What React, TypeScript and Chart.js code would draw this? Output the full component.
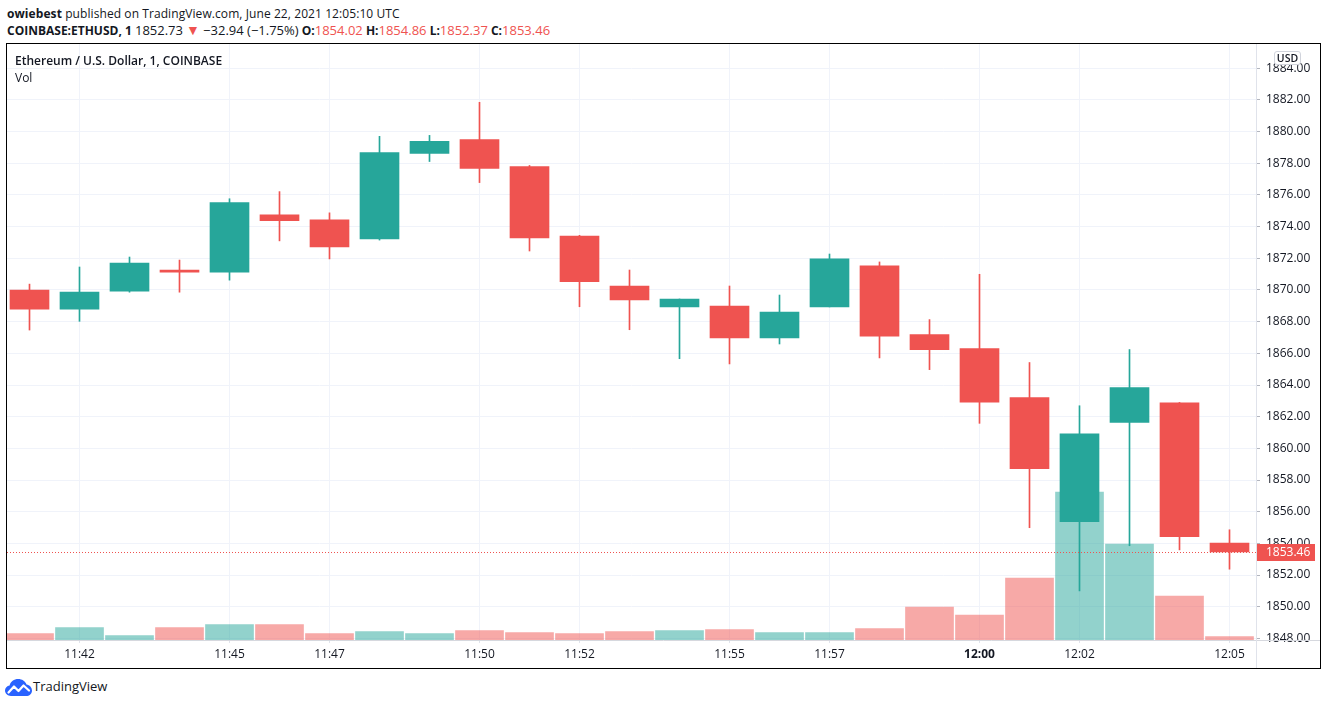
import React, { useEffect, useRef } from 'react';
import { Chart, registerables } from 'chart.js';

Chart.register(...registerables);

// ---- data ----
const times = [
  '11:41', '11:42', '11:43', '11:44', '11:45', '11:46', '11:47', '11:48', '11:49', '11:50',
  '11:51', '11:52', '11:53', '11:54', '11:55', '11:56', '11:57', '11:58', '11:59', '12:00',
  '12:01', '12:02', '12:03', '12:04', '12:05',
];
const opens = [
  1869.99, 1868.78, 1869.93, 1871.26, 1871.13, 1874.75, 1874.43, 1873.22, 1878.62, 1879.50,
  1877.79, 1873.41, 1870.25, 1868.93, 1868.99, 1866.97, 1868.93, 1871.52, 1867.18, 1866.30,
  1863.20, 1855.37, 1861.64, 1862.88, 1854.02,
];
const highs = [
  1870.37, 1871.45, 1872.08, 1871.89, 1875.76, 1876.21, 1874.87, 1879.70, 1879.76, 1881.85,
  1877.86, 1873.45, 1871.26, 1869.43, 1870.25, 1869.68, 1872.27, 1871.77, 1868.13, 1870.99,
  1865.42, 1862.69, 1866.24, 1862.90, 1854.86,
];
const lows = [
  1867.47, 1868.02, 1869.86, 1869.86, 1870.62, 1873.10, 1871.96, 1873.15, 1878.11, 1876.78,
  1872.46, 1868.94, 1867.49, 1865.66, 1865.33, 1866.59, 1868.93, 1865.71, 1864.97, 1861.58,
  1854.99, 1851.00, 1853.85, 1853.59, 1852.37,
];
const closes = [
  1868.78, 1869.86, 1871.70, 1871.13, 1875.51, 1874.37, 1872.72, 1878.68, 1879.38, 1877.67,
  1873.29, 1870.53, 1869.37, 1869.43, 1866.97, 1868.61, 1871.96, 1867.09, 1866.23, 1862.91,
  1858.72, 1860.92, 1863.83, 1854.42, 1853.46,
];
const volumes = [
  63, 123, 43, 123, 153, 153, 63, 83, 63, 93,
  73, 63, 83, 93, 103, 73, 73, 113, 330, 250,
  620, 1480, 960, 440, 33,
];
const timeTickLabels = ['11:42', '11:45', '11:47', '11:50', '11:52', '11:55', '11:57', '12:00', '12:02', '12:05'];
const priceTickLabels = [
  1848, 1850, 1852, 1854, 1856, 1858, 1860, 1862, 1864, 1866,
  1868, 1870, 1872, 1874, 1876, 1878, 1880, 1882, 1884,
];
const lastPrice = 1853.46;

const UP = '#26a69a';
const DOWN = '#ef5350';
const UP_VOL = 'rgba(38,166,154,0.5)';
const DOWN_VOL = 'rgba(239,83,80,0.5)';
const FONT = '"Open Sans", sans-serif';
const TEXT = '#131722';

export default function App() {
  const canvasRef = useRef<HTMLCanvasElement | null>(null);

  useEffect(() => {
    const canvas = canvasRef.current;
    if (!canvas) return;
    const isUp = (i: number) => closes[i] >= opens[i];

    const overlay = {
      id: 'tvOverlay',
      afterDatasetsDraw(chart: any) {
        const { ctx, chartArea } = chart;
        const y = Math.round(chart.scales.y.getPixelForValue(lastPrice)) + 0.5;
        ctx.save();
        ctx.strokeStyle = DOWN;
        ctx.lineWidth = 1;
        ctx.setLineDash([1, 2]);
        ctx.beginPath();
        ctx.moveTo(chartArea.left, y);
        ctx.lineTo(chartArea.right, y);
        ctx.stroke();
        ctx.restore();
      },
      afterDraw(chart: any) {
        const { ctx, chartArea, width, height } = chart;
        ctx.save();
        ctx.strokeStyle = '#d6d8de';
        ctx.lineWidth = 1;
        ctx.beginPath();
        ctx.moveTo(0, chartArea.bottom + 0.5);
        ctx.lineTo(width, chartArea.bottom + 0.5);
        ctx.stroke();
        ctx.strokeStyle = '#e0e3eb';
        ctx.beginPath();
        ctx.moveTo(chartArea.right + 0.5, 0);
        ctx.lineTo(chartArea.right + 0.5, height);
        ctx.stroke();
        // last price label
        const y = Math.round(chart.scales.y.getPixelForValue(lastPrice));
        ctx.fillStyle = DOWN;
        ctx.fillRect(chartArea.right + 1, y - 8, 58, 17);
        ctx.fillStyle = '#ffffff';
        ctx.font = `12px ${FONT}`;
        ctx.textAlign = 'left';
        ctx.textBaseline = 'middle';
        ctx.fillText(lastPrice.toFixed(2), chartArea.right + 10, y + 0.5);
        ctx.restore();
      },
    };

    const chart = new Chart(canvas, {
      type: 'bar',
      data: {
        datasets: [
          {
            label: 'body',
            data: times.map((_, i) => ({ x: i, y: [opens[i], closes[i]] })) as any,
            backgroundColor: times.map((_, i) => (isUp(i) ? UP : DOWN)),
            barThickness: 39,
            grouped: false,
            borderWidth: 0,
            order: 1,
            yAxisID: 'y',
          } as any,
          {
            label: 'wick',
            data: times.map((_, i) => ({ x: i, y: [lows[i], highs[i]] })) as any,
            backgroundColor: times.map((_, i) => (isUp(i) ? UP : DOWN)),
            barThickness: 1,
            grouped: false,
            borderWidth: 0,
            order: 2,
            yAxisID: 'y',
          } as any,
          {
            label: 'Vol',
            data: times.map((_, i) => ({ x: i, y: volumes[i] })) as any,
            backgroundColor: times.map((_, i) => (isUp(i) ? UP_VOL : DOWN_VOL)),
            barThickness: 48,
            grouped: false,
            borderWidth: 0,
            order: 3,
            yAxisID: 'vol',
          } as any,
        ],
      },
      options: {
        animation: false,
        responsive: false,
        devicePixelRatio: 1,
        layout: { padding: 0 },
        plugins: { legend: { display: false }, tooltip: { enabled: false } },
        scales: {
          x: {
            type: 'linear',
            position: 'bottom',
            offset: false,
            min: -0.45,
            max: 24.53,
            bounds: 'data',
            grid: { offset: false, color: '#f0f3fa', tickColor: '#e0e3eb', tickLength: 3, drawTicks: true },
            border: { display: false },
            ticks: {
              autoSkip: false,
              maxRotation: 0,
              padding: 4,
              color: TEXT,
              font: (c: any) => ({
                family: FONT,
                size: 12,
                weight: c.tick && times[c.tick.value] === '12:00' ? 'bold' : 'normal',
              }),
              callback: (v: any) => times[v] ?? '',
            },
            afterBuildTicks: (scale: any) => {
              scale.ticks = timeTickLabels.map((t) => ({ value: times.indexOf(t) }));
            },
            afterFit: (scale: any) => {
              scale.height = 28;
              scale.paddingLeft = 0;
              scale.paddingRight = 0;
            },
          } as any,
          y: {
            type: 'linear',
            position: 'right',
            min: 1847.9,
            max: 1885.53,
            bounds: 'data',
            grid: { color: '#f0f3fa', tickColor: '#b2b5be', tickLength: 4, drawTicks: true },
            border: { display: false },
            ticks: {
              padding: 6,
              color: TEXT,
              font: { family: FONT, size: 12 },
              callback: (v: any) => Number(v).toFixed(2),
            },
            afterBuildTicks: (scale: any) => {
              scale.ticks = priceTickLabels.map((v) => ({ value: v }));
            },
            afterFit: (scale: any) => {
              scale.width = 64;
              scale.paddingTop = 0;
              scale.paddingBottom = 0;
            },
          } as any,
          vol: {
            type: 'linear',
            display: false,
            min: 0,
            max: 5960,
          } as any,
        },
      } as any,
      plugins: [overlay],
    });
    return () => chart.destroy();
  }, []);

  const red = { color: DOWN };
  const num = { fontSize: 13 };
  return (
    <div
      style={{
        position: 'absolute',
        left: 0,
        top: 0,
        width: 1327,
        height: 705,
        background: '#fff',
        fontFamily: FONT,
        color: TEXT,
        overflow: 'hidden',
      }}
    >
      <div style={{ position: 'absolute', left: 7, top: 5, fontSize: 12, lineHeight: '18px', whiteSpace: 'nowrap', letterSpacing: 0.08 }}>
        <b>owiebest</b> published on TradingView.com, June 22, 2021 12:05:10 UTC
      </div>
      <div style={{ position: 'absolute', left: 7, top: 21, fontSize: 12, lineHeight: '18px', whiteSpace: 'nowrap' }}>
        <b>COINBASE:ETHUSD, 1</b> <span style={num}>1852.73</span>{' '}
        <span style={{ ...red, fontSize: 14 }}>▼</span> <span style={num}>−32.94 (−1.75%)</span> <b>O:</b>
        <span style={{ ...red, ...num }}>1854.02</span> <b>H:</b>
        <span style={{ ...red, ...num }}>1854.86</span> <b>L:</b>
        <span style={{ ...red, ...num }}>1852.37</span> <b>C:</b>
        <span style={{ ...red, ...num }}>1853.46</span>
      </div>
      <div
        style={{
          position: 'absolute',
          left: 6,
          top: 43,
          width: 1315,
          height: 626,
          border: '1px solid #000',
          boxSizing: 'border-box',
        }}
      />
      <canvas
        ref={canvasRef}
        width={1313}
        height={624}
        style={{ position: 'absolute', left: 7, top: 44, width: 1313, height: 624 }}
      />
      <div style={{ position: 'absolute', left: 15, top: 52, fontSize: 12, lineHeight: '18px', fontWeight: 600, whiteSpace: 'nowrap' }}>
        Ethereum / U.S. Dollar, 1, COINBASE
      </div>
      <div style={{ position: 'absolute', left: 15, top: 69, fontSize: 12, lineHeight: '18px', whiteSpace: 'nowrap' }}>
        Vol
      </div>
      <div
        style={{
          position: 'absolute',
          left: 1274,
          top: 51,
          width: 27,
          height: 14,
          border: '1px solid #d1d4dc',
          borderRadius: 3,
          background: '#fff',
          boxSizing: 'border-box',
          fontSize: 10.5,
          lineHeight: '12px',
          textAlign: 'center',
          fontWeight: 600,
        }}
      >
        USD
      </div>
      <svg width="27" height="17" viewBox="0 0 27 17" style={{ position: 'absolute', left: 5, top: 679 }}>
        <path
          d="M6 17 C2.6 17 0 14.6 0 11.6 C0 8.9 2 6.7 4.6 6.4 C5.5 2.7 9 0 13.2 0 C17 0 20.2 2.2 21.5 5.4 C24.6 5.8 27 8.4 27 11.4 C27 14.5 24.4 17 21.2 17 Z"
          fill="#2962ff"
        />
        <polyline
          points="3.5,13.5 9,7.5 13.5,12 18.5,6.5 24,11.5"
          fill="none"
          stroke="#fff"
          strokeWidth="2.2"
          strokeLinejoin="round"
          strokeLinecap="round"
        />
      </svg>
      <div style={{ position: 'absolute', left: 33, top: 677, fontSize: 13, lineHeight: '18px', whiteSpace: 'nowrap' }}>
        TradingView
      </div>
    </div>
  );
}
